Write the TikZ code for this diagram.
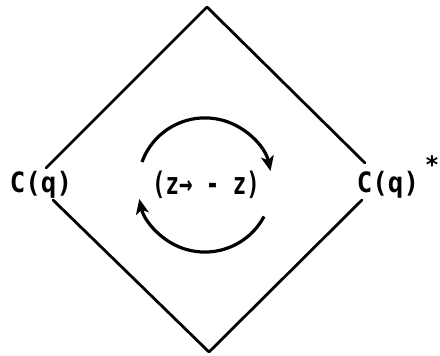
\documentclass[tikz,border=0pt]{standalone}
\usepackage{fontspec}
\setmonofont{DejaVu Sans Mono}
\usetikzlibrary{arrows.meta}
\begin{document}
\begin{tikzpicture}[x=1pt,y=1pt,
  edge/.style={line width=2.8pt,line cap=round,line join=round},
  turn/.style={line width=3.2pt,-{Stealth[length=15pt,width=13pt,inset=4pt]}},
  lbl/.style={font=\ttfamily\bfseries\fontsize{28}{30}\selectfont,inner sep=0pt},
  mid/.style={font=\ttfamily\bfseries\fontsize{31}{34}\selectfont,inner sep=0pt}]
\useasboundingbox (0,0) rectangle (440,356);
% labels
\node[lbl] (lq) at (41,171) {\scalebox{0.92}[1]{C(q)}};
\node[lbl] (rq) at (388,171) {\scalebox{0.92}[1]{C(q)}};
\node[font=\ttfamily\bfseries\fontsize{24}{26}\selectfont,inner sep=0pt] (star) at (432,191) {*};
\node[mid] (map) at (206,171) {\scalebox{0.72}[1]{(z→ - z)}};
% diamond
\coordinate (top) at (207,349);
\coordinate (bot) at (209,4);
\coordinate (tl) at (46,188);
\coordinate (bl) at (53,156);
\coordinate (tr) at (365,193);
\coordinate (br) at (362,156);
\draw[edge] (tl) -- (top) -- (tr);
\draw[edge] (bl) -- (bot) -- (br);
% circular arrows
\coordinate (a1) at (142,194);
\coordinate (a2) at (264,139.5);
\draw[turn] (a1) arc[start angle=160,end angle=12,radius=67];
\draw[turn] (a2) arc[start angle=-28,end angle=-168,radius=67];
\end{tikzpicture}
\end{document}
